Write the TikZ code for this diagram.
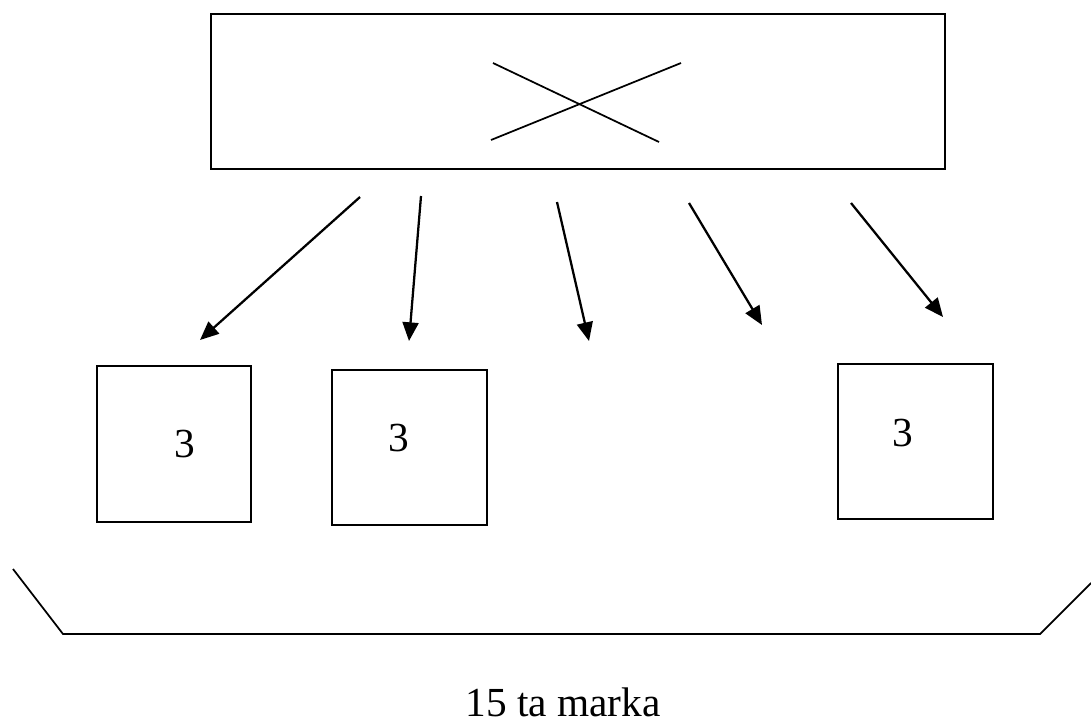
\documentclass[tikz,border=0pt]{standalone}
\usepackage{fontspec}
\setmainfont{Liberation Serif}
\usetikzlibrary{arrows.meta}
\tikzset{
  frame/.style={draw, line width=1.2pt, inner sep=0pt},
  arr/.style={line width=1.7pt, -{Triangle[length=14pt,width=12pt]}},
  thin line/.style={line width=1.3pt},
  label text/.style={font=\fontsize{31}{37}\selectfont, anchor=base, inner sep=0pt}
}
\begin{document}
\begin{tikzpicture}[x=0.75pt, y=-0.75pt]
  \useasboundingbox (0,0) rectangle (1091,722);

  % top box with the cross
  \node[frame, minimum width=734*0.75pt, minimum height=155*0.75pt] (top) at (578,91.5) {};
  \coordinate (xa1) at (493,63);  \coordinate (xa2) at (659,142);
  \coordinate (xb1) at (491,140); \coordinate (xb2) at (681,63);
  \draw[thin line] (xa1) -- (xa2);
  \draw[thin line] (xb1) -- (xb2);

  % lower boxes
  \node[frame, minimum width=154*0.75pt, minimum height=156*0.75pt] (b1) at (174,444) {};
  \node[frame, minimum width=155*0.75pt, minimum height=155*0.75pt] (b2) at (409.5,447.5) {};
  \node[frame, minimum width=155*0.75pt, minimum height=155*0.75pt] (b3) at (915.5,441.5) {};
  \node[label text] (t1) at (185,457) {3};
  \node[label text] (t2) at (399,451) {3};
  \node[label text] (t3) at (903,446) {3};

  % arrows
  \coordinate (s1) at (360,197); \coordinate (e1) at (200,340);
  \coordinate (s2) at (421,196); \coordinate (e2) at (409,341);
  \coordinate (s3) at (557,202); \coordinate (e3) at (589,341);
  \coordinate (s4) at (689,203); \coordinate (e4) at (762,325);
  \coordinate (s5) at (851,203); \coordinate (e5) at (943,317);
  \foreach \i in {1,...,5} \draw[arr] (s\i) -- (e\i);

  % brace
  \coordinate (bl0) at (13,569); \coordinate (bl1) at (63,634);
  \coordinate (br1) at (1040,634); \coordinate (br0) at (1091,583);
  \draw[thin line] (bl0) -- (bl1) -- (br1) -- (br0);

  \node[label text] (total) at (563,716) {15 ta marka};
\end{tikzpicture}
\end{document}
